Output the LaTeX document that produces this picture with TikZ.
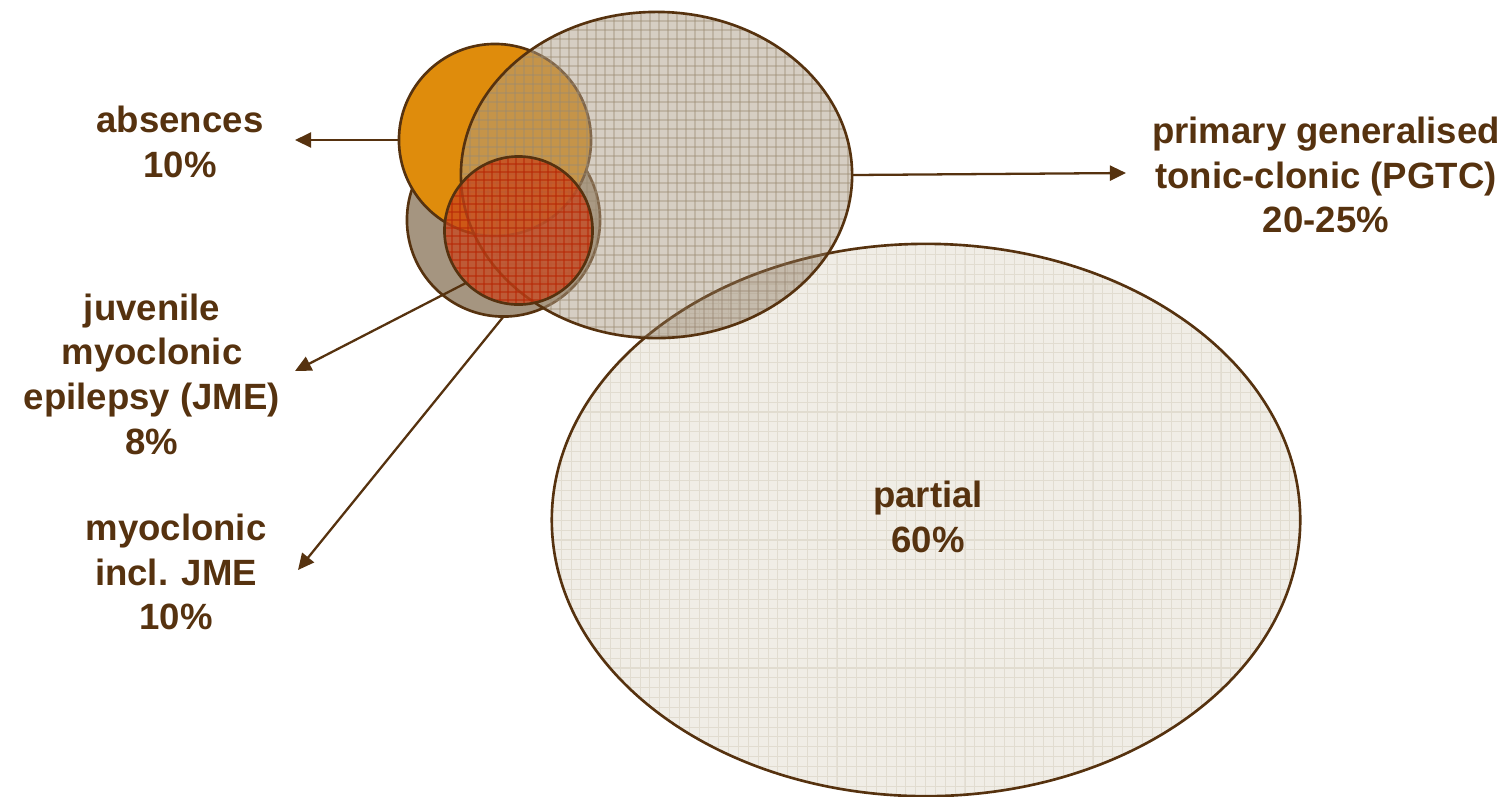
\documentclass[tikz,border=0pt]{standalone}
\usepackage{fontspec}
\setmainfont{Liberation Sans}
\usetikzlibrary{shapes.geometric,arrows.meta,patterns.meta}

\definecolor{ink}{HTML}{56320F}
\definecolor{pgtcfill}{HTML}{AD9D87}
\definecolor{pgtcgrid}{HTML}{9A8A72}
\definecolor{partfill}{HTML}{F0EDE6}
\definecolor{partgrid}{HTML}{E1DCD0}
\definecolor{absfill}{HTML}{DF8C0C}
\definecolor{myofill}{HTML}{A59580}
\definecolor{jmefill}{HTML}{C8441A}
\definecolor{jmegrid}{HTML}{B82806}
\definecolor{overlap}{HTML}{8A7A66}

% fine square grid used as texture on the large partial set
\tikzdeclarepattern{
  name=finegrid,
  type=uncolored,
  bounding box={(-0.2pt,-0.2pt) and (3.0pt,3.0pt)},
  tile size={(2.8pt,2.8pt)},
  code={\draw[line width=0.3pt] (0,0) -- (2.8pt,0) (0,0) -- (0,2.8pt);}
}

\tikzset{
  blob/.style={inner sep=0pt, outer sep=0pt},
  outline/.style={postaction={draw=ink, line width=0.75pt, draw opacity=1}},
  gridline/.style={line width=0.3pt},
  lbl/.style={text=ink, font=\bfseries\fontsize{10.4}{12.7}\selectfont, align=center},
  conn/.style={draw=ink, line width=0.65pt, -{Triangle[length=4.6pt,width=4.3pt]}},
}

\begin{document}
\begin{tikzpicture}[x=0.01cm, y=-0.01cm]
\useasboundingbox (0,0) rectangle (1507,796);

% partial seizures
\node[blob, ellipse, minimum width=7.48cm, minimum height=5.52cm,
      fill=partfill,
      postaction={pattern=finegrid, pattern color=partgrid},
      outline]
      (partial) at (926,520) {};

% myoclonic incl. JME
\node[blob, circle, minimum size=1.93cm, fill=myofill, outline] (myo) at (503.5,220) {};

% absences
\node[blob, circle, minimum size=1.92cm, fill=absfill, outline] (abs) at (495,140) {};

% primary generalised tonic-clonic: translucent fill, grid texture, outline
\node[blob, ellipse, minimum width=3.91cm, minimum height=3.26cm,
      fill=pgtcfill, fill opacity=0.5]
      (pgtc) at (656.5,175) {};
\begin{scope}
  \clip (656.5,175) ellipse [x radius=1.955cm, y radius=1.63cm];
  \foreach \gx in {461,470,...,853}
    \draw[gridline, pgtcgrid, draw opacity=0.38] (\gx,10) -- (\gx,340);
  \foreach \gy in {12,21,...,340}
    \draw[gridline, pgtcgrid, draw opacity=0.38] (458,\gy) -- (856,\gy);
  % darker shading where partial and PGTC overlap
  \fill[overlap, fill opacity=0.12] (926,520) ellipse [x radius=3.74cm, y radius=2.76cm];
  % partial outline seen through the translucent PGTC set
  \draw[ink, line width=0.75pt, draw opacity=0.5] (926,520) ellipse [x radius=3.74cm, y radius=2.76cm];
\end{scope}
\draw[ink, line width=0.75pt] (656.5,175) ellipse [x radius=1.955cm, y radius=1.63cm];

% juvenile myoclonic epilepsy
\node[blob, circle, minimum size=1.48cm, fill=jmefill, fill opacity=0.72]
      (jme) at (518.5,230.5) {};
\begin{scope}
  \clip (518.5,230.5) circle [radius=0.74cm];
  \foreach \gx in {444,452,...,594}
    \draw[gridline, jmegrid, draw opacity=0.55] (\gx,154) -- (\gx,307);
  \foreach \gy in {156,164,...,306}
    \draw[gridline, jmegrid, draw opacity=0.55] (442,\gy) -- (595,\gy);
\end{scope}
\draw[ink, line width=0.75pt] (518.5,230.5) circle [radius=0.74cm];

% labels
\node[lbl] (absl) at (180,142) {absences\\10\%};
\node[lbl] (pgtcl) at (1326,175) {primary generalised\\tonic-clonic (PGTC)\\20-25\%};
\node[lbl] (jmel) at (152,374) {juvenile\\myoclonic\\epilepsy (JME)\\8\%};
\node[lbl] (myol) at (176,572) {myoclonic\\incl. JME\\10\%};
\node[lbl] (partl) at (928,517) {partial\\60\%};

% arrow tips
\coordinate (abstip) at (295,140);
\coordinate (pgtctip) at (1126,173);
\coordinate (jmetip) at (295,371);
\coordinate (myotip) at (298,570);

% connectors
\draw[conn] (abs.west) -- (abstip);
\draw[conn] (pgtc.east) -- (pgtctip);
\draw[conn] (jme.225) -- (jmetip);
\draw[conn] (myo.south) -- (myotip);
\end{tikzpicture}
\end{document}
